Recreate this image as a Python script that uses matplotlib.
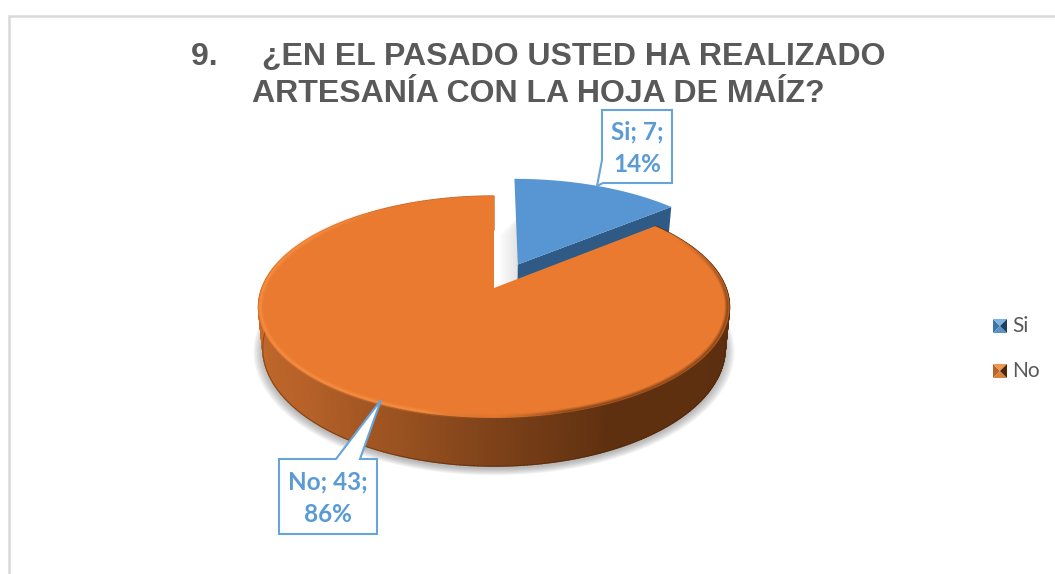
import numpy as np
import matplotlib
matplotlib.use('Agg')
import matplotlib.pyplot as plt
from matplotlib.patches import Polygon
from matplotlib.collections import LineCollection

# data
categories = ['Si', 'No']
values = [7, 43]
title_lines = ['9.     ¿EN EL PASADO USTED HA REALIZADO', 'ARTESANÍA CON LA HOJA DE MAÍZ?']

# pie look: fake 3D done with a perspective projection of a disk
explode = [0.25, 0.0]
top_colors = ['#5796d3', '#e97a30']
cx, cy = 494, 288
rx, ry, persp = 232, 107.7, 0.171
depth = 40
BLUE = '#5b9bd5'
GREY = '#595959'


def project(u, v, drop=0.0):
    w = 1 + persp * v
    shrink = 1 - 0.018 * (drop / depth)
    return cx + rx * u / w * shrink, cy - ry * v / w + drop / w


def rim(t, off, drop=0.0, scale=1.0):
    return project(np.sin(t) * scale + off[0], np.cos(t) * scale + off[1], drop)


fig = plt.figure(figsize=(10.55, 5.74), dpi=100)
ax = fig.add_axes([0, 0, 1, 1])
ax.set_xlim(0, 1055)
ax.set_ylim(574, 0)
ax.axis('off')

# chart frame
ax.plot([9, 9, 1055], [574, 16, 16], color='#d9d9d9', lw=1.8, solid_joinstyle='miter')

fracs = np.array(values) / sum(values)
edges = np.concatenate([[0], np.cumsum(fracs)]) * 2 * np.pi

# soft shadow under the pie
tt = np.linspace(0, 2 * np.pi, 200)
for grow in np.linspace(1.04, 1.0, 12):
    sx, sy = project(np.sin(tt) * grow, np.cos(tt) * grow, depth + 2)
    ax.fill(sx, sy, color='#808080', alpha=0.06, lw=0, zorder=1)

# the gap between the slices stays white
gx, gy = rim(np.linspace(edges[0], edges[1], 40), (0, 0), 0.0, 1.3)
ax.add_patch(Polygon(np.column_stack([np.r_[cx, gx], np.r_[cy + 2, gy]]), color='white', lw=0, zorder=1.2))

# blue slice
mid = (edges[0] + edges[1]) / 2
off0 = (explode[0] * np.sin(mid), explode[0] * np.cos(mid))
t0 = np.linspace(edges[0], edges[1], 60)
x0, y0 = rim(t0, off0)
ax0, ay0 = project(off0[0], off0[1])
bx0, by0 = project(off0[0], off0[1], depth)
ex0, ey0 = x0[-1], y0[-1]
fx0, fy0 = rim(edges[1], off0, depth)

# little shadow in the gap, left of the blue slice
for gap in np.linspace(2, 18, 7):
    ax.add_patch(Polygon([(ax0, ay0 - 47), (ax0 - gap, ay0 - 30), (ax0 - gap, ay0 + 22), (ax0, ay0 + 22)],
                         color='#909090', alpha=0.035, lw=0, zorder=1.5))
ax.add_patch(Polygon([(ax0, ay0), (ex0, ey0), (fx0, fy0), (bx0, by0)], color='#2e5a85', lw=0, zorder=2))
ax.add_patch(Polygon(np.column_stack([np.r_[ax0, x0], np.r_[ay0, y0]]), color=top_colors[0], lw=0, zorder=3))

# orange slice, side wall is a stack of thin quads
off1 = (0.0, 0.0)
t1 = np.linspace(edges[1], edges[2], 420)
shade_t = np.radians([90, 155, 180, 200, 225, 270, 360])
shade_rgb = np.array([[0x5c, 0x2f, 0x10], [0x5f, 0x30, 0x10], [0x7e, 0x42, 0x19], [0x9a, 0x52, 0x20],
                      [0xb6, 0x61, 0x29], [0xc8, 0x6c, 0x2c], [0xc8, 0x6c, 0x2c]]) / 255
for a, b in zip(t1[:-1], t1[1:]):
    xa, ya = rim(a, off1)
    xb, yb = rim(b, off1)
    xc, yc = rim(b, off1, depth)
    xd, yd = rim(a, off1, depth)
    col = [np.interp(a, shade_t, shade_rgb[:, k]) for k in range(3)]
    ax.add_patch(Polygon([(xa, ya), (xb, yb), (xc, yc), (xd, yd)], facecolor=col, edgecolor=col, lw=1.0, zorder=4))

xb1, yb1 = rim(np.linspace(np.radians(95), np.radians(285), 200), off1, depth)
ax.plot(xb1, yb1, color='#4a2408', lw=0.7, alpha=0.5, zorder=4.5)

x1, y1 = rim(t1, off1)
ax.add_patch(Polygon(np.column_stack([np.r_[cx, x1], np.r_[cy, y1]]), color=top_colors[1], lw=0, zorder=5))

# bevel along the front edge: bright on the left, dark and blurry on the right
tb = np.linspace(np.radians(60), np.radians(330), 300)
xr, yr = rim(tb, off1, 0.0, 0.992)
pts = np.column_stack([xr, yr])
segs = np.stack([pts[:-1], pts[1:]], axis=1)
cols = np.zeros((len(segs), 4))
tm = (tb[:-1] + tb[1:]) / 2
blend = np.interp(tm, np.radians([165, 195]), [0, 1])
cols[:, :3] = (1 - blend)[:, None] * np.array([0.42, 0.21, 0.07]) + blend[:, None] * np.array([0.98, 0.58, 0.28])
fade = np.interp(tm, np.radians([60, 100, 165, 180, 195, 300, 330]), [0, 1, 1, 0.1, 1, 1, 0])
for lw, a in [(4.0, 0.22), (2.4, 0.3), (1.2, 0.4)]:
    cols[:, 3] = a * fade
    ax.add_collection(LineCollection(segs, colors=cols.copy(), linewidths=lw, capstyle='butt', zorder=5.5))

# callouts
callouts = [[(602, 110), (672, 110), (672, 183), (603, 183), (597, 186), (602, 160)],
            [(279, 459), (336, 459), (381, 400), (360, 459), (377, 459), (377, 534), (279, 534)]]
label_pos = [(637, 148), (328, 498)]
for i in range(len(categories)):
    ax.add_patch(Polygon(callouts[i], closed=True, facecolor='white', edgecolor='#68a3da', lw=1.5, zorder=6,
                         joinstyle='miter'))
    txt = '%s; %d;\n%d%%' % (categories[i], values[i], round(fracs[i] * 100))
    ax.text(label_pos[i][0], label_pos[i][1], txt, ha='center', va='center', family='Lato', weight='bold',
            fontsize=17.5, color=BLUE, linespacing=1.5, zorder=7)

# title
for line, y in zip(title_lines, [57, 94]):
    ax.text(538, y, line, ha='center', va='center', family='Liberation Sans', weight='bold', fontsize=23, color=GREY)

# legend keys, small bevelled squares
key_shades = [['#3f74a8', '#7ab3e6', '#5b93c9', '#1f3d5c'], ['#b8642a', '#f0974f', '#d9803a', '#4e2609']]
for i, (name, y) in enumerate(zip(categories, [326, 371])):
    x_l, x_r, y_t, y_b = 993, 1007, y - 7, y + 7
    m = ((x_l + x_r) / 2, y)
    tris = [[(x_l, y_t), (x_l, y_b), m], [(x_l, y_t), (x_r, y_t), m], [(x_l, y_b), (x_r, y_b), m], [(x_r, y_t), (x_r, y_b), m]]
    for tri, c in zip(tris, key_shades[i]):
        ax.add_patch(Polygon(tri, color=c, lw=0))
    ax.text(1012, y, name, ha='left', va='center', family='Lato', fontsize=15, color=GREY)

fig.savefig('out.png', dpi=100)
